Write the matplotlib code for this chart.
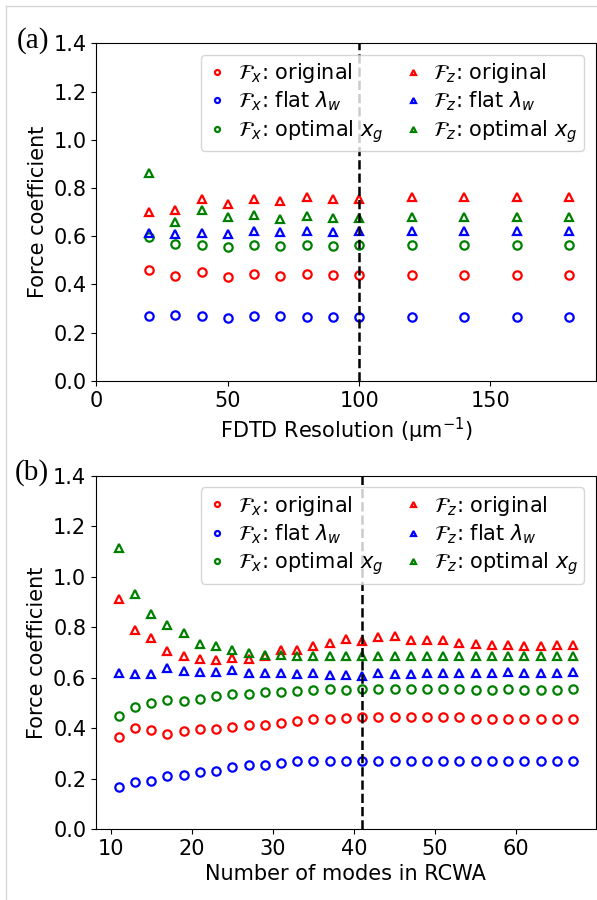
import numpy as np
import matplotlib.pyplot as plt
from matplotlib.lines import Line2D

# (a) FDTD resolution sweep
res = [20, 30, 40, 50, 60, 70, 80, 90, 100, 120, 140, 160, 180]
fx_orig_a = [0.460, 0.435, 0.451, 0.430, 0.442, 0.435, 0.442, 0.438, 0.439, 0.438, 0.438, 0.438, 0.438]
fx_flat_a = [0.268, 0.274, 0.269, 0.261, 0.268, 0.271, 0.267, 0.264, 0.267, 0.267, 0.267, 0.267, 0.267]
fx_opt_a = [0.596, 0.568, 0.563, 0.557, 0.565, 0.558, 0.565, 0.560, 0.563, 0.563, 0.563, 0.563, 0.563]
fz_orig_a = [0.699, 0.708, 0.756, 0.733, 0.756, 0.748, 0.763, 0.756, 0.756, 0.764, 0.764, 0.764, 0.764]
fz_flat_a = [0.615, 0.611, 0.614, 0.608, 0.622, 0.619, 0.621, 0.616, 0.621, 0.622, 0.622, 0.622, 0.622]
fz_opt_a = [0.861, 0.658, 0.708, 0.681, 0.687, 0.673, 0.685, 0.677, 0.677, 0.681, 0.681, 0.681, 0.681]

# (b) RCWA mode sweep
modes = list(range(11, 68, 2))
fx_orig_b = [0.366, 0.399, 0.393, 0.378, 0.389, 0.398, 0.395, 0.403, 0.411, 0.411,
             0.422, 0.428, 0.435, 0.438, 0.442, 0.444, 0.444, 0.446, 0.443, 0.443,
             0.443, 0.443, 0.438, 0.437, 0.438, 0.437, 0.437, 0.437, 0.438]
fx_flat_b = [0.165, 0.188, 0.192, 0.210, 0.216, 0.228, 0.231, 0.247, 0.253, 0.253,
             0.263, 0.268, 0.271, 0.270, 0.270, 0.270, 0.270, 0.270, 0.270, 0.270,
             0.270, 0.270, 0.270, 0.270, 0.270, 0.270, 0.270, 0.270, 0.270]
fx_opt_b = [0.447, 0.484, 0.500, 0.510, 0.509, 0.517, 0.526, 0.534, 0.534, 0.542,
            0.543, 0.549, 0.551, 0.555, 0.553, 0.555, 0.557, 0.557, 0.554, 0.555,
            0.557, 0.555, 0.553, 0.553, 0.554, 0.553, 0.551, 0.553, 0.554]
fz_orig_b = [0.912, 0.791, 0.759, 0.705, 0.686, 0.676, 0.672, 0.677, 0.676, 0.685,
             0.709, 0.710, 0.726, 0.736, 0.752, 0.744, 0.760, 0.764, 0.750, 0.750,
             0.748, 0.739, 0.732, 0.731, 0.731, 0.726, 0.727, 0.728, 0.731]
fz_flat_b = [0.619, 0.614, 0.616, 0.640, 0.627, 0.623, 0.621, 0.632, 0.618, 0.618,
             0.617, 0.614, 0.617, 0.611, 0.611, 0.607, 0.618, 0.615, 0.615, 0.618,
             0.619, 0.620, 0.618, 0.619, 0.623, 0.620, 0.619, 0.620, 0.623]
fz_opt_b = [1.113, 0.932, 0.854, 0.811, 0.777, 0.733, 0.727, 0.709, 0.698, 0.689,
            0.689, 0.688, 0.687, 0.686, 0.686, 0.686, 0.688, 0.687, 0.687, 0.687,
            0.687, 0.687, 0.687, 0.687, 0.687, 0.687, 0.687, 0.687, 0.687]

labels = [r'$\mathcal{F}_x$: original', r'$\mathcal{F}_x$: flat $\lambda_w$',
          r'$\mathcal{F}_x$: optimal $x_g$', r'$\mathcal{F}_z$: original',
          r'$\mathcal{F}_z$: flat $\lambda_w$', r'$\mathcal{F}_z$: optimal $x_g$']
colors = ['r', 'b', 'g', 'r', 'b', 'g']
markers = ['o', 'o', 'o', '^', '^', '^']

plt.rcParams['font.size'] = 15

fig = plt.figure(figsize=(5.97, 9), dpi=100)
ax1 = fig.add_axes([0.1616, 0.5767, 0.836, 0.3752])
ax2 = fig.add_axes([0.1608, 0.0789, 0.837, 0.3922])


def draw(ax, x, series, vline):
    for y, c, m, lab in zip(series, colors, markers, labels):
        ax.plot(x, y, linestyle='none', marker=m, markersize=6, mfc='none',
                mec=c, mew=1.6, label=lab)
    ax.axvline(vline, color='k', linestyle='--', linewidth=1.8)
    ax.set_ylim(0, 1.4)
    ax.set_yticks(np.arange(0, 1.41, 0.2))
    ax.set_ylabel('Force coefficient')
    ax.legend(ncol=2, loc='upper right', markerscale=0.6, fontsize=15,
              handletextpad=0.5, columnspacing=0.9, borderpad=0.3,
              labelspacing=0.22, handlelength=1.0, borderaxespad=0.55)


draw(ax1, res, [fx_orig_a, fx_flat_a, fx_opt_a, fz_orig_a, fz_flat_a, fz_opt_a], 100)
ax1.set_xlim(0, 190)
ax1.set_xticks([0, 50, 100, 150])
ax1.set_xlabel('FDTD Resolution (μm$^{-1}$)')

draw(ax2, modes, [fx_orig_b, fx_flat_b, fx_opt_b, fz_orig_b, fz_flat_b, fz_opt_b], 41)
ax2.set_xticks([10, 20, 30, 40, 50, 60])
ax2.set_xlabel('Number of modes in RCWA')

fig.text(0.028, 0.955, '(a)', family='Liberation Serif', fontsize=21, va='center')
fig.text(0.025, 0.475, '(b)', family='Liberation Serif', fontsize=21, va='center')

# thin grey frame of the original page
fig.add_artist(Line2D([6/597, 6/597], [0, 1 - 6/900], color='#d8d8d8', lw=1))
fig.add_artist(Line2D([6/597, 1], [1 - 6/900, 1 - 6/900], color='#d8d8d8', lw=1))

fig.savefig('out.png', dpi=100)
